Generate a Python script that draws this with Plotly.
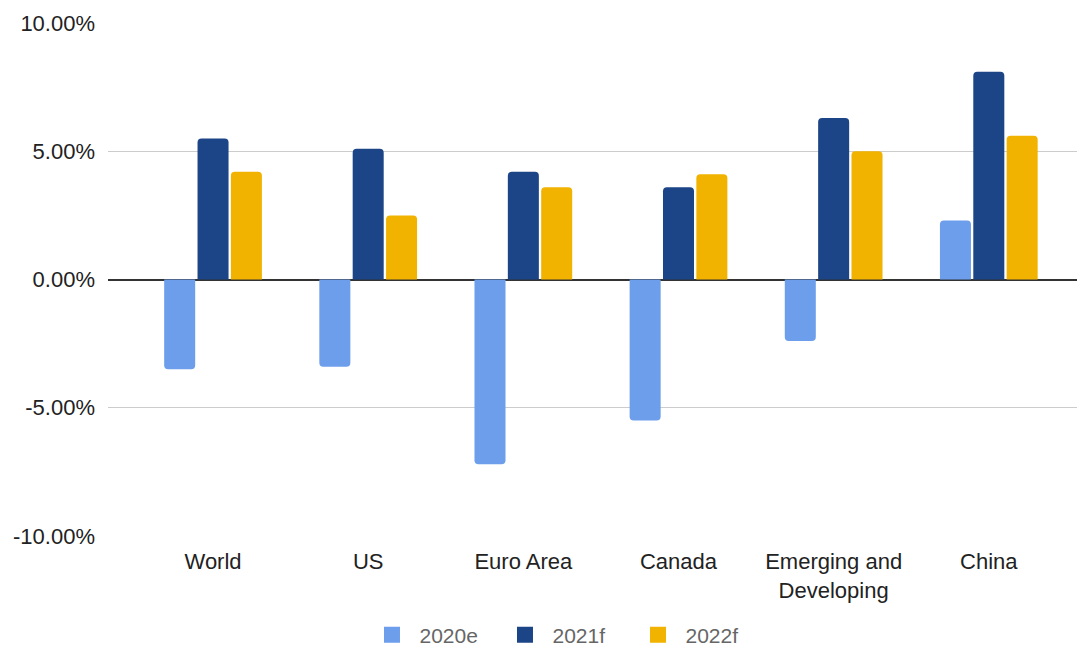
import plotly.graph_objects as go

categories = ["World", "US", "Euro Area", "Canada", "Emerging and<br>Developing", "China"]
vals_2020e = [-3.5, -3.4, -7.2, -5.5, -2.4, 2.3]
vals_2021f = [5.5, 5.1, 4.2, 3.6, 6.3, 8.1]
vals_2022f = [4.2, 2.5, 3.6, 4.1, 5.0, 5.6]
y_ticks = [-10, -5, 0, 5, 10]
y_tick_labels = ["-10.00%", "-5.00%", "0.00%", "5.00%", "10.00%"]

colors = {"2020e": "#6d9eeb", "2021f": "#1c4587", "2022f": "#f1b300"}

fig = go.Figure()
for name, vals in [("2020e", vals_2020e), ("2021f", vals_2021f), ("2022f", vals_2022f)]:
    fig.add_trace(go.Bar(
        x=list(range(len(categories))), y=vals, name=name, showlegend=False,
        marker=dict(color=colors[name], line=dict(width=0), cornerradius=4),
    ))
for name in ["2020e", "2021f", "2022f"]:
    fig.add_trace(go.Scatter(
        x=[None], y=[None], mode="markers", name=name,
        marker=dict(symbol="square", size=20, color=colors[name]),
    ))

# browser body has 8px margin, so figure is 8px smaller than the window
fig.update_layout(
    width=1077, height=642,
    barmode="group", bargap=0.355, bargroupgap=0.07,
    plot_bgcolor="white", paper_bgcolor="white",
    margin=dict(l=100, r=0, t=15, b=114),
    font=dict(family="Arial, Liberation Sans, sans-serif", color="#222222"),
    xaxis=dict(
        tickmode="array", tickvals=list(range(len(categories))), ticktext=categories,
        range=[-0.677, 5.62], showgrid=False, zeroline=False, showline=False,
        tickfont=dict(size=22, color="#222222"), ticks="", ticklabelstandoff=10,
    ),
    yaxis=dict(
        range=[-10, 10], tickmode="array", tickvals=y_ticks, ticktext=y_tick_labels,
        showgrid=True, gridcolor="#cccccc", gridwidth=1.3,
        zeroline=True, zerolinecolor="#333333", zerolinewidth=1.6,
        tickfont=dict(size=22, color="#222222"), ticks="", ticklabelstandoff=12,
    ),
    legend=dict(
        orientation="h", xref="container", yref="container",
        x=0.331, xanchor="left", y=0.0234, yanchor="middle",
        font=dict(size=21, color="#666666"), itemwidth=45, itemsizing="trace",
        entrywidth=73, entrywidthmode="pixels",
    ),
)

fig.write_html("out.html")
